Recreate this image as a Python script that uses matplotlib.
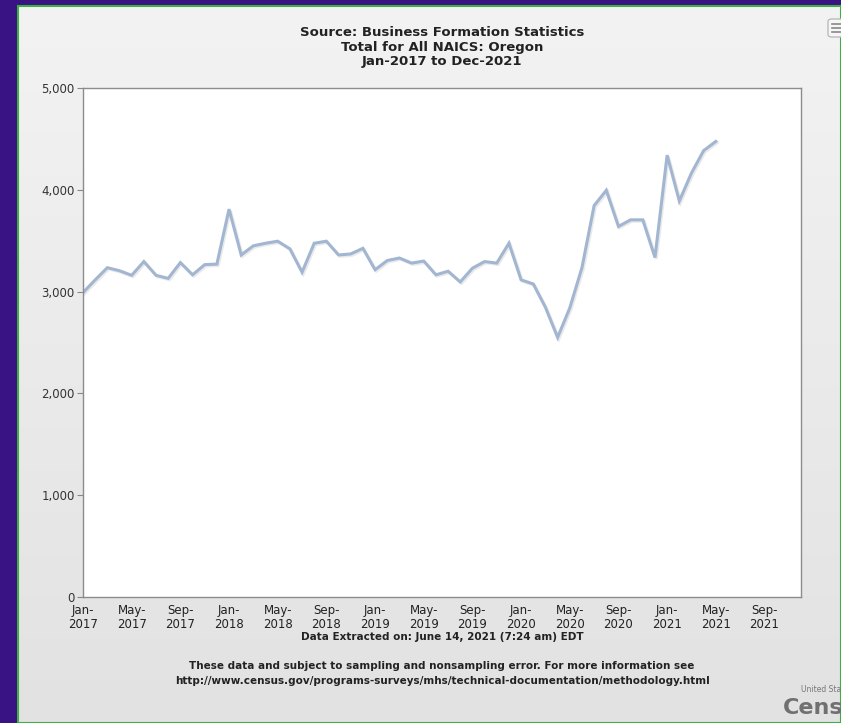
import numpy as np
import matplotlib.pyplot as plt
import matplotlib.patheffects as pe
from matplotlib.colors import LinearSegmentedColormap
from matplotlib.patches import FancyBboxPatch

# monthly business applications, Oregon, Jan-2017 .. May-2021
values = [2990, 3115, 3235, 3205, 3160, 3295, 3160, 3130, 3285, 3165, 3265, 3270,
          3810, 3360, 3450, 3475, 3495, 3420, 3190, 3475, 3495, 3360, 3370, 3425,
          3215, 3305, 3330, 3280, 3300, 3165, 3200, 3095, 3230, 3295, 3280, 3475,
          3115, 3075, 2845, 2550, 2840, 3235, 3845, 3995, 3640, 3705, 3705, 3335,
          4340, 3890, 4165, 4385, 4475]
tick_months = [0, 4, 8, 12, 16, 20, 24, 28, 32, 36, 40, 44, 48, 52, 56]
tick_labels = ["Jan-\n2017", "May-\n2017", "Sep-\n2017", "Jan-\n2018", "May-\n2018",
               "Sep-\n2018", "Jan-\n2019", "May-\n2019", "Sep-\n2019", "Jan-\n2020",
               "May-\n2020", "Sep-\n2020", "Jan-\n2021", "May-\n2021", "Sep-\n2021"]
y_ticks = [0, 1000, 2000, 3000, 4000, 5000]

W, H = 841, 723
fig = plt.figure(figsize=(W / 100, H / 100), dpi=100, facecolor="#391283")

# light panel with vertical gradient
bg = fig.add_axes([18 / W, 0, 1 - 18 / W, 1 - 6 / H])
grad = np.linspace(0, 1, 256).reshape(-1, 1)
bg.imshow(grad, aspect="auto", cmap=LinearSegmentedColormap.from_list("g", ["#f3f3f3", "#e2e2e2"]),
          extent=[0, 1, 0, 1], origin="upper")
bg.set_xlim(0, 1)
bg.set_ylim(0, 1)
for s in bg.spines.values():
    s.set_color("#3cb043")
    s.set_linewidth(1.5)
bg.set_xticks([])
bg.set_yticks([])

ax = fig.add_axes([83 / W, (H - 597) / H, (801 - 83) / W, (597 - 88) / H])
ax.set_facecolor("white")
x = np.arange(len(values))
ax.plot(x, values, color="#a2b6d1", lw=2.2, solid_joinstyle="miter",
        path_effects=[pe.SimpleLineShadow(offset=(1, -1), shadow_color="#aaaaaa", alpha=0.25),
                      pe.Normal()])
ax.set_xlim(0, 59)
ax.set_ylim(0, 5000)
ax.set_yticks(y_ticks)
ax.set_yticklabels([f"{v:,}" for v in y_ticks], fontsize=8.5, color="#333333")
ax.set_xticks(tick_months)
ax.set_xticklabels(tick_labels, fontsize=8.5, color="#222222", linespacing=1.15)
ax.tick_params(axis="y", length=4, color="#888888", pad=2)
ax.tick_params(axis="x", length=0, pad=5)
for s in ax.spines.values():
    s.set_color("#8c8c8c")
    s.set_linewidth(1)

cx = (83 + 801) / 2 / W
title_lines = ["Source: Business Formation Statistics", "Total for All NAICS: Oregon",
               "Jan-2017 to Dec-2021"]
for yy, t in zip((33, 47, 62), title_lines):
    fig.text(cx, 1 - yy / H, t, ha="center", va="center", fontsize=9.5,
             fontweight="bold", color="#222222")
fig.text(cx, 1 - 637 / H, "Data Extracted on: June 14, 2021 (7:24 am) EDT", ha="center",
         va="center", fontsize=7.5, fontweight="bold", color="#222222")
fig.text(cx, 1 - 666 / H, "These data and subject to sampling and nonsampling error. For more information see",
         ha="center", va="center", fontsize=7.5, fontweight="bold", color="#222222")
fig.text(cx, 1 - 681 / H, "http://www.census.gov/programs-surveys/mhs/technical-documentation/methodology.html",
         ha="center", va="center", fontsize=7.5, fontweight="bold", color="#222222")

# census logo (cut off at the right edge, as in the original)
fig.text(783 / W, 1 - 708 / H, "Census", ha="left", va="center", fontsize=16,
         fontweight="bold", color="#707070")
fig.text(801 / W, 1 - 690 / H, "United States", ha="left", va="center", fontsize=5.5,
         color="#777777")

# menu icon top-right
icon = FancyBboxPatch((828 / W, 1 - 37 / H), 16 / W, 18 / H, boxstyle="round,pad=0,rounding_size=0.004",
                      transform=fig.transFigure, facecolor="#f6f6f6", edgecolor="#bbbbbb", lw=1)
fig.patches.append(icon)
for yy in (24, 28, 32):
    fig.add_artist(plt.Line2D([832 / W, 841 / W], [1 - yy / H, 1 - yy / H], color="#888888", lw=1.2))

fig.savefig("out.png", dpi=100, facecolor=fig.get_facecolor())
